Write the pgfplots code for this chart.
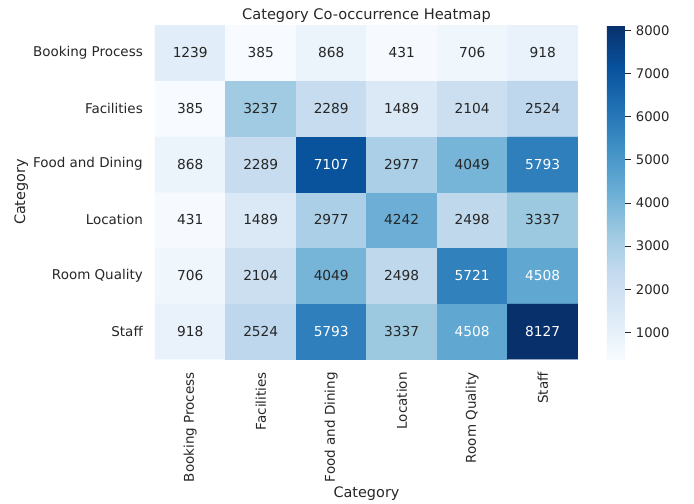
\documentclass[border=0pt]{standalone}
\usepackage{pgfplots}
\pgfplotsset{compat=1.18}
\usepackage{fontspec}
\setmainfont{DejaVu Sans}
\definecolor{txt}{RGB}{38,38,38}
\pgfplotsset{
  colormap={blues}{rgb255=(247,251,255) rgb255=(222,235,247) rgb255=(198,219,239) rgb255=(158,202,225) rgb255=(107,174,214) rgb255=(66,146,198) rgb255=(33,113,181) rgb255=(8,81,156) rgb255=(8,48,107)}
}
\begin{document}
\begin{tikzpicture}
\useasboundingbox (-111.6bp,-104.4bp) rectangle (388.08bp,258.48bp);
\begin{axis}[
  at={(0,0)}, anchor=south west,
  scale only axis, width=304.56bp, height=240.48bp,
  xmin=-0.5, xmax=5.5, ymin=-0.5, ymax=5.5,
  axis line style={draw=none}, major tick length=0pt,
  xtick={0,...,5}, ytick={0,...,5},
  xticklabels={Booking Process,Facilities,Food and Dining,Location,Room Quality,Staff},
  yticklabels={Staff,Room Quality,Location,Food and Dining,Facilities,Booking Process},
  xticklabel style={rotate=90, anchor=east, inner sep=0pt, font=\fontsize{9.7bp}{11bp}\selectfont, text=txt},
  yticklabel style={anchor=east, inner sep=0pt, font=\fontsize{9.7bp}{11bp}\selectfont, text=txt},
  xticklabel shift=9.4bp, yticklabel shift=8.6bp,
  colormap name=blues,
  point meta min=385, point meta max=8127,
  title={Category Co-occurrence Heatmap},
  title style={at={(axis description cs:0.5,0.991)}, anchor=base, inner sep=0pt, font=\fontsize{10.5bp}{12bp}\selectfont, text=txt},
  xlabel={Category},
  xlabel style={at={(axis description cs:0.5,-0.4133)}, anchor=base, inner sep=0pt, font=\fontsize{10.4bp}{12bp}\selectfont, text=txt},
  ylabel={Category},
  ylabel style={at={(axis description cs:-0.3073,0.5)}, rotate=0, anchor=base, inner sep=0pt, font=\fontsize{10.4bp}{12bp}\selectfont, text=txt},
  colorbar,
  colorbar style={
    at={(parent axis.north east)}, anchor=north west, xshift=12.24bp,
    scale only axis, width=12.96bp, height=240.48bp,
    axis line style={draw=none},
    ytick={1000,2000,3000,4000,5000,6000,7000,8000},
    ytick pos=right, yticklabel pos=right,
    tick align=outside, major tick length=4.6bp,
    major tick style={draw=txt, line width=0.6bp},
    scaled y ticks=false,
    /pgf/number format/1000 sep={},
    /pgf/number format/assume math mode=true,
    yticklabel style={font=\fontsize{9.5bp}{11bp}\selectfont, text=txt, inner sep=0pt, xshift=3.2bp},
  },
]
\addplot[matrix plot*, mesh/cols=6, point meta=explicit] table[meta=v] {
x y v
0 0 918
1 0 2524
2 0 5793
3 0 3337
4 0 4508
5 0 8127
0 1 706
1 1 2104
2 1 4049
3 1 2498
4 1 5721
5 1 4508
0 2 431
1 2 1489
2 2 2977
3 2 4242
4 2 2498
5 2 3337
0 3 868
1 3 2289
2 3 7107
3 3 2977
4 3 4049
5 3 5793
0 4 385
1 4 3237
2 4 2289
3 4 1489
4 4 2104
5 4 2524
0 5 1239
1 5 385
2 5 868
3 5 431
4 5 706
5 5 918
};
\addplot[only marks, mark=none, nodes near coords, point meta=explicit symbolic,
  nodes near coords style={anchor=center, font=\fontsize{9.9bp}{11bp}\selectfont, text=txt}]
  table[meta=t] {
x y t
0 0 918
1 0 2524
3 0 3337
0 1 706
1 1 2104
2 1 4049
3 1 2498
0 2 431
1 2 1489
2 2 2977
3 2 4242
4 2 2498
5 2 3337
0 3 868
1 3 2289
3 3 2977
4 3 4049
0 4 385
1 4 3237
2 4 2289
3 4 1489
4 4 2104
5 4 2524
0 5 1239
1 5 385
2 5 868
3 5 431
4 5 706
5 5 918
};
\addplot[only marks, mark=none, nodes near coords, point meta=explicit symbolic,
  nodes near coords style={anchor=center, font=\fontsize{9.9bp}{11bp}\selectfont, text=white}]
  table[meta=t] {
x y t
2 0 5793
4 0 4508
5 0 8127
4 1 5721
5 1 4508
2 3 7107
5 3 5793
};
\end{axis}
\end{tikzpicture}
\end{document}
